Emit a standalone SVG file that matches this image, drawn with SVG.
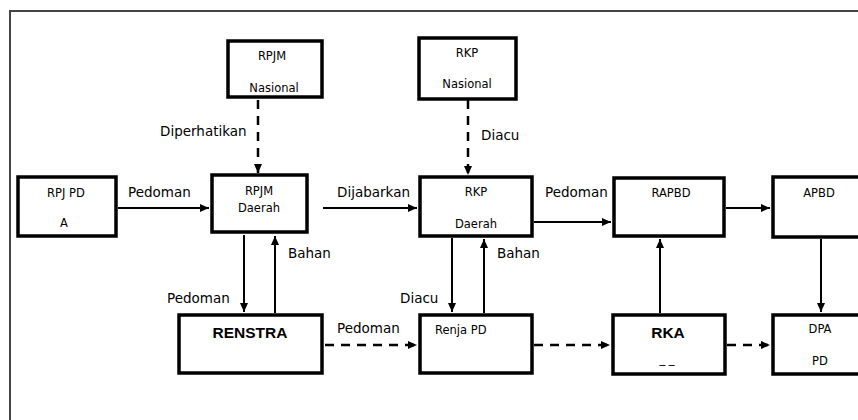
<svg xmlns="http://www.w3.org/2000/svg" width="858" height="420" viewBox="0 0 858 420">
<style>
.box{fill:#fff;stroke:#000;stroke-width:3.5}
.bt{font-family:"DejaVu Sans",sans-serif;font-size:11.5px;fill:#000;text-anchor:middle}
.bb{font-family:"Liberation Sans",sans-serif;font-size:15.5px;font-weight:bold;fill:#000;text-anchor:middle}
.lb{font-family:"DejaVu Sans",sans-serif;font-size:13.5px;fill:#000}
.s{stroke:#000;stroke-width:2;fill:none}
.d{stroke:#000;stroke-width:2.5;fill:none;stroke-dasharray:9 7}
</style>
<defs>
<marker id="ah" markerUnits="userSpaceOnUse" markerWidth="10" markerHeight="10" viewBox="0 0 10 10" refX="9" refY="5" orient="auto">
<path d="M0,1 L9,5 L0,9 Z" fill="#000"/>
</marker>
</defs>
<rect x="10" y="11" width="860" height="420" fill="#fff" stroke="#444" stroke-width="2"/>
<g id="connectors">
<line class="d" x1="258" y1="100" x2="258" y2="173" marker-end="url(#ah)"/>
<line class="d" x1="468" y1="100" x2="468" y2="175" marker-end="url(#ah)"/>
<line class="s" x1="118" y1="208" x2="209" y2="208" marker-end="url(#ah)"/>
<line class="s" x1="323" y1="208" x2="417" y2="208" marker-end="url(#ah)"/>
<line class="s" x1="534" y1="222" x2="611" y2="222" marker-end="url(#ah)"/>
<line class="s" x1="726" y1="208" x2="770" y2="208" marker-end="url(#ah)"/>
<line class="s" x1="244" y1="235" x2="244" y2="312" marker-end="url(#ah)"/>
<line class="s" x1="275" y1="313" x2="275" y2="236" marker-end="url(#ah)"/>
<line class="s" x1="452" y1="238" x2="452" y2="312" marker-end="url(#ah)"/>
<line class="s" x1="484" y1="313" x2="484" y2="239" marker-end="url(#ah)"/>
<line class="s" x1="660" y1="313" x2="660" y2="239" marker-end="url(#ah)"/>
<line class="s" x1="821" y1="239" x2="821" y2="312" marker-end="url(#ah)"/>
<line class="d" x1="325" y1="345" x2="417" y2="345" marker-end="url(#ah)"/>
<line class="d" x1="534" y1="345" x2="610" y2="345" marker-end="url(#ah)"/>
<line class="d" x1="727" y1="345" x2="770" y2="345" marker-end="url(#ah)"/>
<text class="lb" x="160" y="136">Diperhatikan</text>
<text class="lb" x="481" y="140">Diacu</text>
<text class="lb" x="128" y="197">Pedoman</text>
<text class="lb" x="337" y="197">Dijabarkan</text>
<text class="lb" x="545" y="197">Pedoman</text>
<text class="lb" x="288" y="258">Bahan</text>
<text class="lb" x="497" y="258">Bahan</text>
<text class="lb" x="167" y="303">Pedoman</text>
<text class="lb" x="400" y="303">Diacu</text>
<text class="lb" x="337" y="333">Pedoman</text>
</g>
<g id="rpjm-nasional"><rect class="box" x="228" y="41" width="94" height="56"/><text class="bt" x="272" y="60">RPJM</text><text class="bt" x="274" y="92">Nasional</text></g>
<g id="rkp-nasional"><rect class="box" x="419" y="38" width="97" height="61"/><text class="bt" x="467" y="57">RKP</text><text class="bt" x="467" y="88">Nasional</text></g>
<g id="rpjpd"><rect class="box" x="18" y="177" width="98" height="59"/><text class="bt" x="66" y="197">RPJ PD</text><text class="bt" x="64" y="227">A</text></g>
<g id="rpjm-daerah"><rect class="box" x="212" y="175" width="95" height="57"/><text class="bt" x="259" y="195">RPJM</text><text class="bt" x="259" y="212">Daerah</text></g>
<g id="rkp-daerah"><rect class="box" x="420" y="177" width="112" height="59"/><text class="bt" x="476" y="196">RKP</text><text class="bt" x="476" y="228">Daerah</text></g>
<g id="rapbd"><rect class="box" x="614" y="178" width="110" height="58"/><text class="bt" x="671" y="197">RAPBD</text></g>
<g id="apbd"><rect class="box" x="773" y="177" width="95" height="60"/><text class="bt" x="819" y="197">APBD</text></g>
<g id="renstra"><rect class="box" x="179" y="315" width="143" height="58"/><text class="bb" x="250" y="338">RENSTRA</text></g>
<g id="renja-pd"><rect class="box" x="420" y="315" width="112" height="58"/><text class="bt" x="435" y="334" style="text-anchor:start">Renja PD</text></g>
<g id="rka"><rect class="box" x="613" y="315" width="112" height="59"/><text class="bb" x="668" y="338">RKA</text><text class="bt" x="667" y="363">_ _</text></g>
<g id="dpa-pd"><rect class="box" x="773" y="315" width="95" height="59"/><text class="bt" x="820" y="333">DPA</text><text class="bt" x="820" y="365">PD</text></g>
</svg>
